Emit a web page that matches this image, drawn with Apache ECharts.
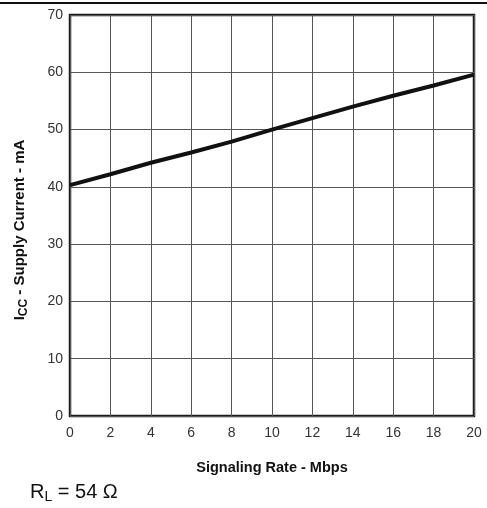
<!DOCTYPE html>
<html>
<head>
<meta charset="utf-8">
<script src="https://cdn.jsdelivr.net/npm/echarts@6/dist/echarts.min.js"></script>
<style>html,body{margin:0;padding:0;background:#fff;}#c{width:487px;height:508px;}</style>
</head>
<body>
<div id="c"></div>
<script>
const rates = [0, 2, 4, 6, 8, 10, 12, 14, 16, 18, 20];
const supplyCurrent = [40.3, 42.2, 44.2, 46.0, 47.9, 50.0, 52.0, 54.0, 55.9, 57.7, 59.6];
const xTicks = [0, 2, 4, 6, 8, 10, 12, 14, 16, 18, 20];
const yTicks = [0, 10, 20, 30, 40, 50, 60, 70];

const chart = echarts.init(document.getElementById('c'), null, {renderer: 'canvas'});
const font = 'Arial, "Liberation Sans", sans-serif';
chart.setOption({
  animation: false,
  backgroundColor: '#fff',
  grid: {left: 70, right: 13, top: 15, bottom: 92, show: true, borderColor: '#1a1a1a', borderWidth: 2.5, containLabel: false},
  xAxis: {
    type: 'value', min: xTicks[0], max: xTicks[xTicks.length - 1], interval: 2,
    name: 'Signaling Rate - Mbps', nameLocation: 'middle', nameGap: 44,
    nameTextStyle: {fontFamily: font, fontWeight: 'bold', fontSize: 14.5, color: '#111'},
    axisLine: {show: false}, axisTick: {show: false},
    axisLabel: {fontFamily: font, fontSize: 14, color: '#333', margin: 10},
    splitLine: {show: true, lineStyle: {color: '#555', width: 1}}
  },
  yAxis: {
    type: 'value', min: yTicks[0], max: yTicks[yTicks.length - 1], interval: 10,
    axisLine: {show: false}, axisTick: {show: false},
    axisLabel: {fontFamily: font, fontSize: 14, color: '#333', margin: 7},
    splitLine: {show: true, lineStyle: {color: '#555', width: 1}}
  },
  series: [{
    type: 'line', data: rates.map((r, i) => [r, supplyCurrent[i]]),
    showSymbol: false, lineStyle: {color: '#111', width: 4}, z: 5
  }],
  graphic: [
    {type: 'line', shape: {x1: 0, y1: 3, x2: 487, y2: 3}, style: {stroke: '#111', lineWidth: 2}},
    {type: 'text', x: 20, y: 230, rotation: Math.PI / 2,
      style: {
        text: '{a|I}{s|CC}{a| - Supply Current - mA}',
        align: 'center', verticalAlign: 'middle',
        rich: {
          a: {fontFamily: font, fontWeight: 'bold', fontSize: 15, fill: '#111', lineHeight: 20},
          s: {fontFamily: font, fontWeight: 'bold', fontSize: 12, fill: '#111', lineHeight: 12, verticalAlign: 'bottom'}
        }
      }
    },
    {type: 'text', x: 30, y: 492,
      style: {
        text: '{a|R}{s|L}{a| = 54 Ω}',
        align: 'left', verticalAlign: 'middle',
        rich: {
          a: {fontFamily: font, fontSize: 20, fill: '#111', lineHeight: 24},
          s: {fontFamily: font, fontSize: 14, fill: '#111', lineHeight: 14, verticalAlign: 'bottom'}
        }
      }
    }
  ]
});
</script>
</body>
</html>
